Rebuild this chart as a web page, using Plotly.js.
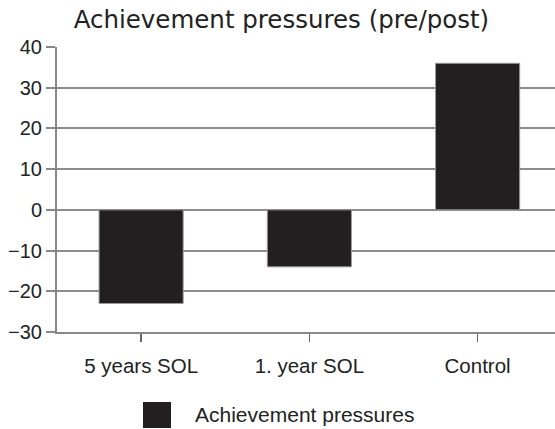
<!DOCTYPE html>
<html>
<head>
<meta charset="utf-8">
<script src="https://cdn.plot.ly/plotly-3.0.1.min.js"></script>
<style>html,body{margin:0;padding:0;background:#fff;overflow:hidden}</style>
</head>
<body>
<div id="chart" style="width:555px;height:429px"></div>
<script>
const categories = ["5 years SOL", "1. year SOL", "Control"];
const values = [-23, -14, 36];
const seriesName = "Achievement pressures";
const yTicks = [-30, -20, -10, 0, 10, 20, 30, 40];
const chartTitle = "Achievement pressures (pre/post)";
const barColor = "#231f20";

const trace = {
  type: "bar",
  x: categories,
  y: values,
  name: seriesName,
  showlegend: false,
  marker: {color: barColor, line: {color: "#9a9a9a", width: 1}},
  hoverinfo: "x+y"
};

const layout = {
  width: 555, height: 429,
  margin: {l: 57, r: 0, t: 47, b: 97},
  paper_bgcolor: "#fff", plot_bgcolor: "#fff",
  title: {text: chartTitle, x: 0.507, xanchor: "center", y: 0.955, yanchor: "middle",
          font: {family: "DejaVu Sans", size: 24.5, color: "#222"}},
  bargap: 0.5,
  showlegend: false,
  xaxis: {type: "category", range: [-0.5, 2.46], showline: true, linecolor: "#888", linewidth: 2,
          ticks: "outside", ticklen: 8, tickwidth: 1.5, tickcolor: "#666", ticklabelstandoff: 6,
          tickfont: {family: "Liberation Sans, Arial", size: 20.5, color: "#222"}, showgrid: false},
  yaxis: {range: [-30, 40], tickvals: yTicks, showline: true, linecolor: "#888", linewidth: 2,
          ticks: "outside", ticklen: 9, tickwidth: 2, tickcolor: "#888",
          showgrid: true, gridcolor: "#8c8c8c", gridwidth: 2, zeroline: false,
          tickfont: {family: "Liberation Sans, Arial", size: 20, color: "#222"}},
  shapes: [{type: "rect", xref: "paper", yref: "paper",
            x0: 0.1727, x1: 0.2289, y0: -0.3368, y1: -0.2456,
            fillcolor: barColor, line: {width: 0}}],
  annotations: [{text: seriesName, xref: "paper", yref: "paper", x: 0.274, y: -0.2912,
                 xanchor: "left", yanchor: "middle", showarrow: false,
                 font: {family: "Liberation Sans, Arial", size: 21, color: "#222"}}]
};

Plotly.newPlot("chart", [trace], layout, {displayModeBar: false, staticPlot: true});
</script>
</body>
</html>
